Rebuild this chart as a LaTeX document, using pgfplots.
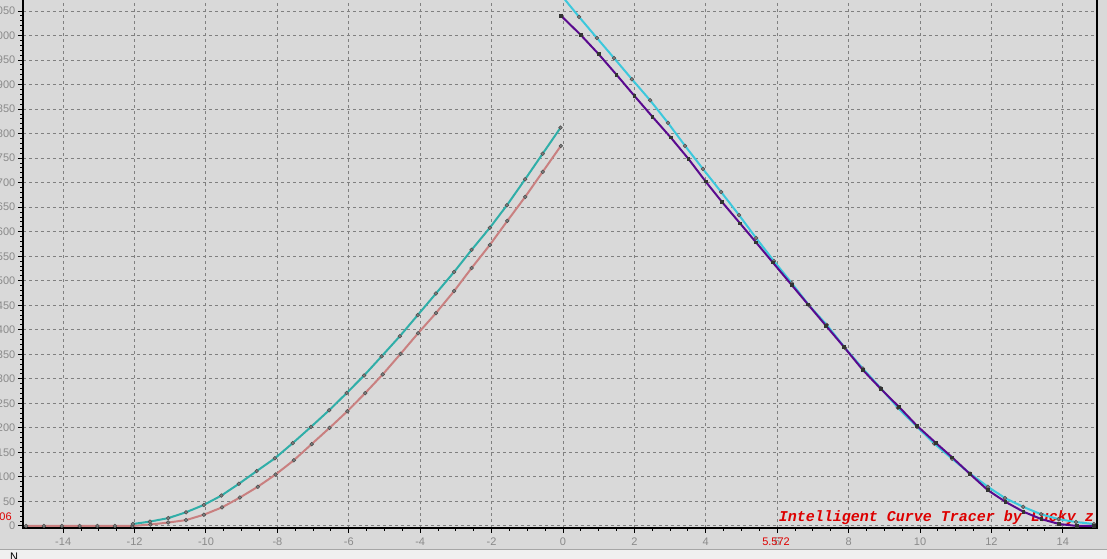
\documentclass[border=0pt]{standalone}
\usepackage{pgfplots}
\pgfplotsset{compat=1.18}
\usepackage{fontspec}
\setmainfont{Liberation Sans}
\newfontfamily\monofont{Liberation Mono}
\definecolor{bg}{HTML}{D9D9D9}
\definecolor{strip}{HTML}{F0F0F0}
\definecolor{gridc}{HTML}{808080}
\definecolor{tickc}{HTML}{8A8A8A}
\definecolor{tealc}{HTML}{30AEA8}
\definecolor{pinkc}{HTML}{C98080}
\definecolor{cyanc}{HTML}{3CC8DC}
\definecolor{purplec}{HTML}{5A0A8E}
\definecolor{markc}{HTML}{808080}
\definecolor{redc}{HTML}{DD0000}

\pgfplotstableread{
x y
-12.05 4
-11.57 9
-11.06 16
-10.56 28
-10.06 43
-9.57 62
-9.08 86
-8.58 112
-8.07 138
-7.57 169
-7.06 202
-6.55 236
-6.06 271
-5.57 307
-5.08 346
-4.57 387
-4.07 430
-3.56 474
-3.05 518
-2.56 563
-2.05 608
-1.57 654
-1.06 707
-0.57 759
-0.07 812
}\teal

\pgfplotstableread{
x y
-15.04 0
-14.54 0
-14.04 0
-13.54 0
-13.04 0
-12.55 0
-12.06 0
-11.56 3
-11.06 7
-10.56 12
-10.06 23
-9.55 38
-9.05 58
-8.55 80
-8.05 105
-7.54 134
-7.04 167
-6.54 200
-6.04 234
-5.54 271
-5.05 309
-4.55 351
-4.06 393
-3.56 434
-3.05 479
-2.56 526
-2.05 573
-1.56 622
-1.06 671
-0.57 722
-0.06 775
}\pink

\pgfplotstableread{
x y
0.00 1078
0.45 1038
0.95 995
1.43 954
1.93 911
2.44 868
2.94 822
3.42 775
3.92 728
4.43 681
4.93 634
5.41 587
5.91 540
6.41 495
6.89 450
7.39 410
7.90 363
8.40 321
8.90 281
9.38 241
9.92 202
10.40 168
10.90 137
11.40 107
11.90 80
12.38 57
12.89 39
13.39 24
13.88 14
14.37 8
14.87 4
}\cyanr

\pgfplotstableread{
x y
-0.05 1040
0.50 1001
1.00 962
1.50 920
2.00 877
2.51 834
3.02 792
3.52 748
4.00 702
4.45 661
4.96 617
5.41 578
5.88 537
6.41 491
6.86 452
7.37 408
7.87 365
8.40 318
8.91 279
9.41 243
9.92 204
10.45 169
10.90 140
11.40 106
11.90 73
12.40 49
12.90 29
13.40 14
13.90 4
14.40 0
14.87 0
}\purpler

\begin{document}
\begin{tikzpicture}[x=0.75pt,y=0.75pt]
\fill[bg] (-23,-31) rectangle (1084,528);
\fill[strip] (-23,-31) rectangle (1084,-22);
\draw[line width=0.75pt, color=gridc!70] (-23,-22) -- (1084,-22);
\node[anchor=north, inner sep=0pt, font=\fontsize{8.25pt}{9pt}\selectfont] at (-9,-25) {N};
\begin{axis}[
  at={(0,0)}, anchor=south west, scale only axis,
  width=805.5pt, height=402.45pt,
  xmin=-15.126, xmax=14.958, ymin=-4.08, ymax=1090,
  axis line style={line width=1.5pt, black},
  tick pos=left, tick align=outside,
  xtick={-14,-12,...,14}, ytick={0,50,...,1050},
  minor x tick num=3, minor y tick num=4,
  major tick length=3.75pt, minor tick length=2pt,
  every tick/.style={black, line width=0.75pt},
  grid=major,
  major grid style={dash pattern=on 2.25pt off 2.25pt, color=gridc, line width=0.75pt},
  ticklabel style={font=\fontsize{8.25pt}{9pt}\selectfont, text=tickc},
  /pgf/number format/assume math mode=true,
  /pgf/number format/1000 sep={},
  yticklabel style={xshift=1.5pt},
  clip=true,
]
\node[anchor=base west, inner sep=0pt, text=redc,
  font=\monofont\bfseries\itshape\fontsize{11.25pt}{12pt}\selectfont]
  at (axis cs:6.04,10) {Intelligent Curve Tracer by Lucky\_z};
\addplot[pinkc, line width=1.5pt, mark=*, mark size=1.4pt,
  mark options={fill=markc, draw=markc!60!black, line width=0.4pt}] table {\pink};
\addplot[tealc, line width=1.5pt, mark=*, mark size=1.4pt,
  mark options={fill=markc, draw=markc!60!black, line width=0.4pt}] table {\teal};
\addplot[cyanc, line width=1.5pt, mark=*, mark size=1.4pt,
  mark options={fill=markc, draw=markc!60!black, line width=0.4pt}] table {\cyanr};
\addplot[purplec, line width=1.5pt, mark=square*, mark size=0.6pt,
  mark options={fill=black!80, draw=black!80}] table {\purpler};
\end{axis}
\node[anchor=east, inner sep=0pt, text=redc, font=\fontsize{8.25pt}{9pt}\selectfont] at (-11,11) {06};
\node[anchor=west, inner sep=0pt, text=redc, font=\fontsize{8.25pt}{9pt}\selectfont] at (739,-14) {5.572};
\pgfresetboundingbox
\path (-23,-31) rectangle (1084,528);
\end{tikzpicture}
\end{document}
